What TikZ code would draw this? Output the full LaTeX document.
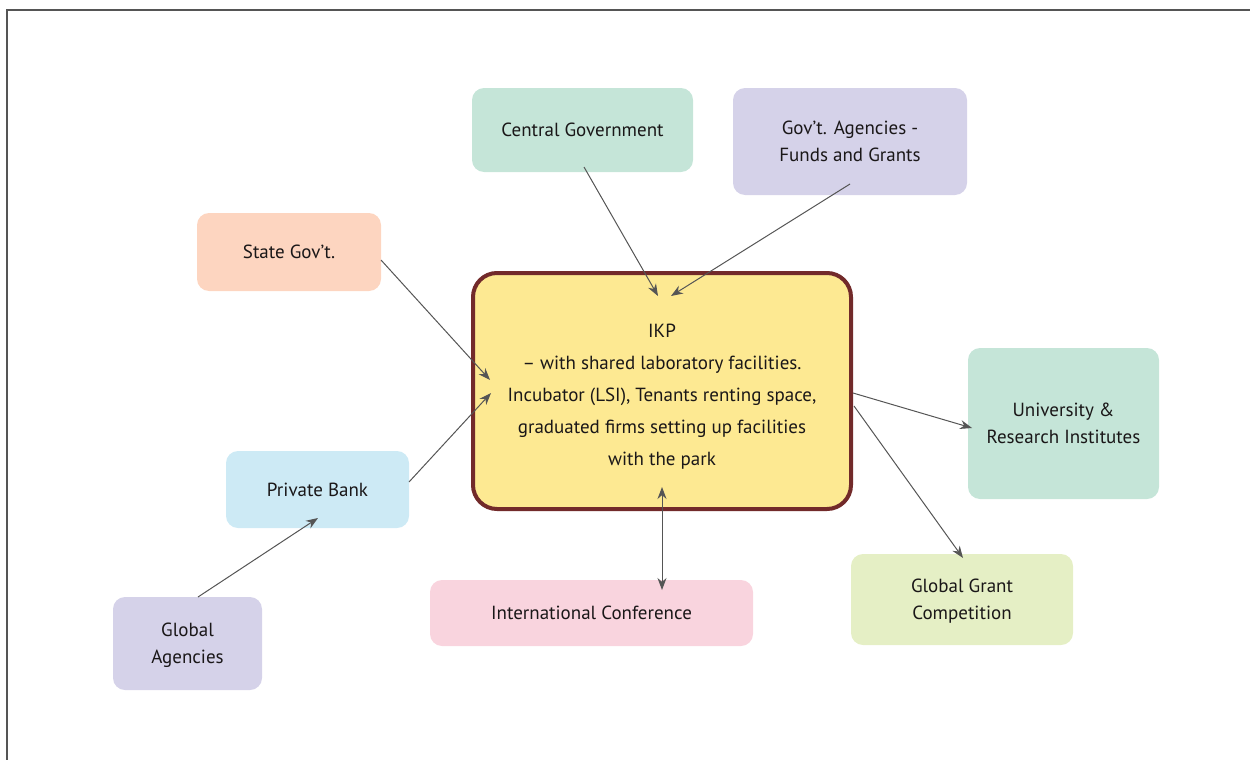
\documentclass[tikz,border=0pt]{standalone}
\usepackage{fontspec}
\setmainfont{PT Sans}
\usetikzlibrary{arrows.meta,calc}
\definecolor{txt}{HTML}{1A1718}
\definecolor{arrgray}{HTML}{555555}
\definecolor{cgreen}{HTML}{C5E5D8}
\definecolor{clav}{HTML}{D5D2E9}
\definecolor{cpeach}{HTML}{FDD5C0}
\definecolor{cblue}{HTML}{CDEAF5}
\definecolor{clime}{HTML}{E5EFC5}
\definecolor{cpink}{HTML}{F9D4DE}
\definecolor{cyel}{HTML}{FDE992}
\definecolor{cmaroon}{HTML}{722A2A}
\begin{document}
\begin{tikzpicture}[x=1pt,y=-1pt,
  box/.style={rounded corners=12pt,inner sep=0pt,align=center,text=txt,
    font=\fontsize{19}{27}\selectfont},
  arr/.style={draw=arrgray,line width=1pt,-{Stealth[length=12pt,width=9pt]}},
  darr/.style={draw=arrgray,line width=1pt,{Stealth[length=12pt,width=9pt]}-{Stealth[length=12pt,width=9pt]}}]
\useasboundingbox (0,0) rectangle (1250,760);
\draw[arrgray,line width=2pt] (7,760) -- (7,10) -- (1250,10);
% boxes
\node[box,fill=cgreen,minimum width=221pt,minimum height=84pt] (cg) at (582.5,130) {Central Government};
\node[box,fill=clav,minimum width=234pt,minimum height=107pt] (ga) at (850,141.5) {Gov’t. Agencies -\\Funds and Grants};
\node[box,fill=cpeach,minimum width=184pt,minimum height=78pt] (sg) at (289,252) {State Gov’t.};
\node[box,fill=cgreen,minimum width=191pt,minimum height=151pt] (uni) at (1063.5,423.5) {University \&\\Research Institutes};
\node[box,fill=cblue,minimum width=183pt,minimum height=77pt] (pb) at (317.5,489.5) {Private Bank};
\node[box,fill=clime,minimum width=222pt,minimum height=91pt] (ggc) at (962,599.5) {\rule{0pt}{17pt}Global Grant\\Competition};
\node[box,fill=cpink,minimum width=323pt,minimum height=66pt] (ic) at (591.5,613) {International Conference};
\node[box,fill=clav,minimum width=149pt,minimum height=93pt] (gag) at (187.5,643.5) {\rule{0pt}{17pt}Global\\Agencies};
\node[box,fill=cyel,draw=cmaroon,line width=4pt,rounded corners=24pt,
  minimum width=378pt,minimum height=236pt,font=\fontsize{19}{32}\selectfont] (ikp) at (662,391)
  {\rule{0pt}{24pt}IKP\\– with shared laboratory facilities.\\Incubator (LSI), Tenants renting space,\\graduated firms setting up facilities\\with the park};
% arrow endpoints
\coordinate (cgS) at (584,167);
\coordinate (ikpA) at (658,296);
\coordinate (gaS) at (850,184);
\coordinate (ikpB) at (671,296);
\coordinate (sgS) at (381,260);
\coordinate (ikpC) at (490,380);
\coordinate (pbS) at (409,482);
\coordinate (ikpD) at (491,393);
\coordinate (gagS) at (198,597);
\coordinate (pbE) at (318,518);
\coordinate (ikpE) at (853,393);
\coordinate (uniE) at (972,428);
\coordinate (ikpF) at (854,406);
\coordinate (ggcE) at (963,558);
\coordinate (ikpG) at (662,487);
\coordinate (icE) at (662,590);
\draw[arr] (cgS) -- (ikpA);
\draw[arr] (gaS) -- (ikpB);
\draw[arr] (sgS) -- (ikpC);
\draw[arr] (pbS) -- (ikpD);
\draw[arr] (gagS) -- (pbE);
\draw[arr] (ikpE) -- (uniE);
\draw[arr] (ikpF) -- (ggcE);
\draw[darr] (ikpG) -- (icE);
\end{tikzpicture}
\end{document}
